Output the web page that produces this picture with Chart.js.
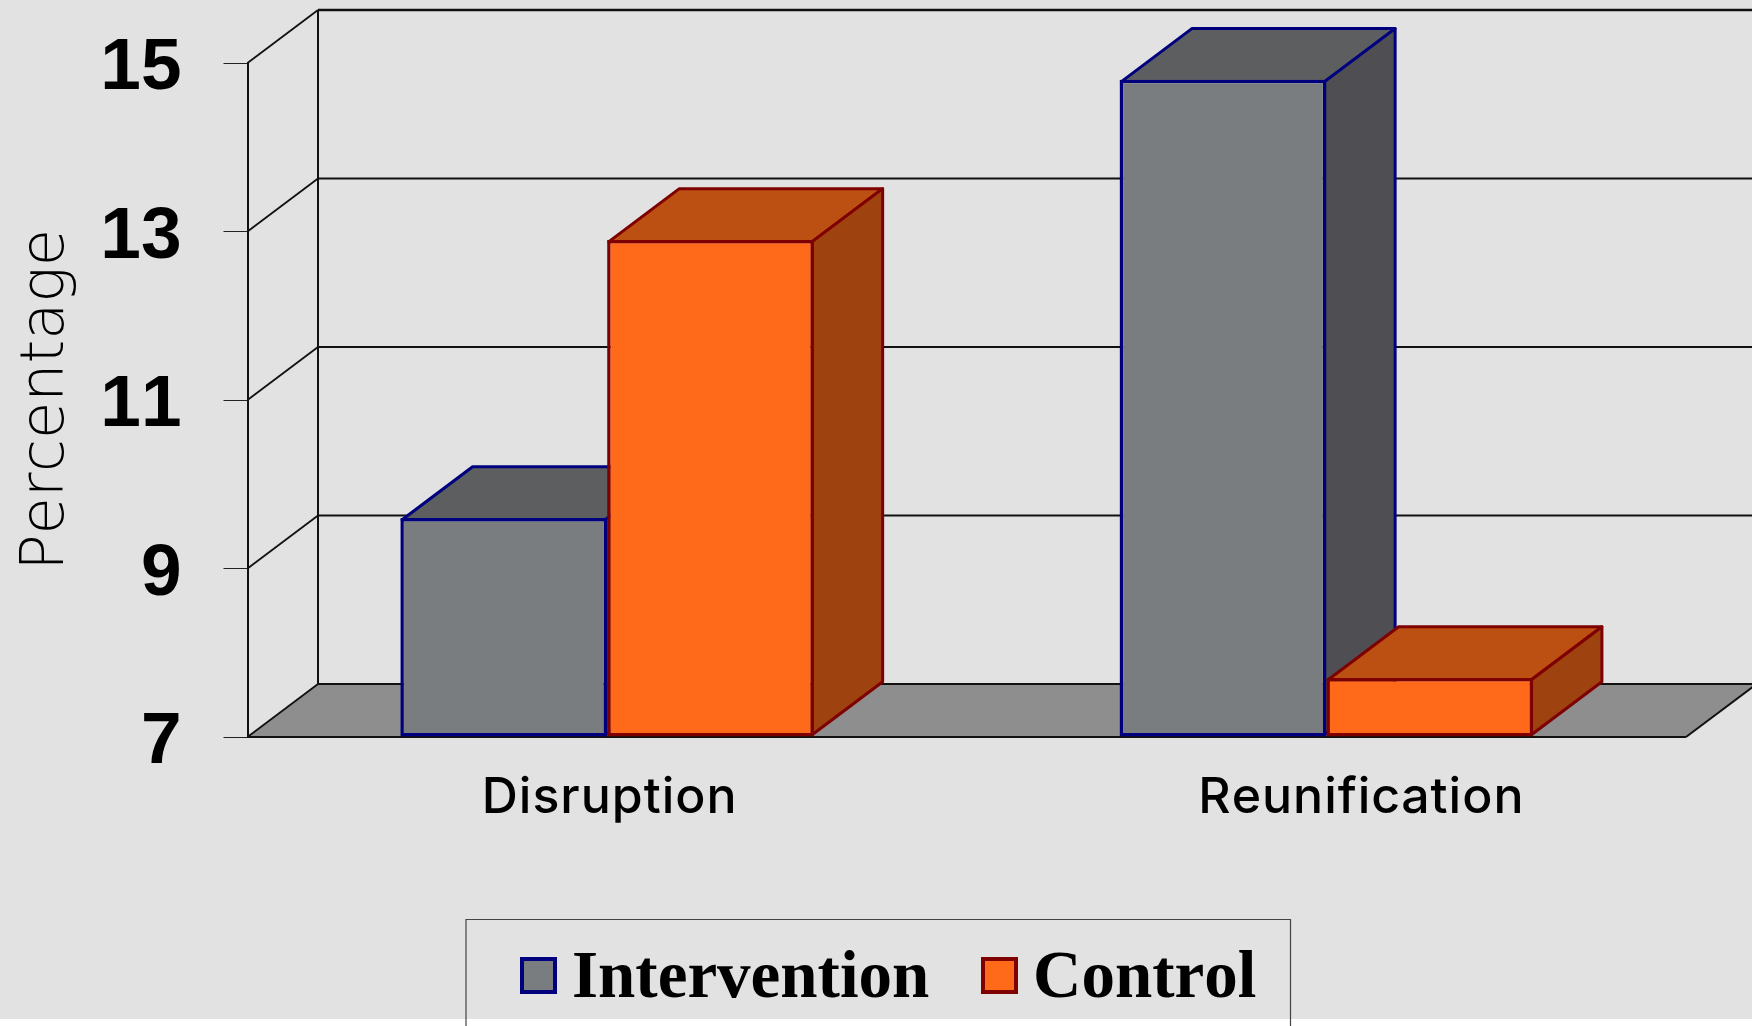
<!DOCTYPE html>
<html>
<head>
<meta charset="utf-8">
<title>Percentage chart</title>
<script src="https://cdn.jsdelivr.net/npm/chart.js@4/dist/chart.umd.js"></script>
<style>
  html, body { margin: 0; padding: 0; background: #fff; }
  canvas { display: block; }
</style>
</head>
<body>
<canvas id="myChart" width="1752" height="1026"></canvas>
<script>
// data
var categories = ["Disruption", "Reunification"];
var intervention = [9.6, 14.8];
var control = [12.9, 7.7];
var yTicks = [7, 9, 11, 13, 15];

// box depth in pixels
var DEPTH_X = 70.5;
var DEPTH_Y = 53;
var BAR_EDGE = 3.5;
var LINE = '#111';

var interventionStyle = { front: '#7a7d80', top: '#5c5e60', side: '#4f4f53', edge: '#00007f' };
var controlStyle = { front: '#ff6a1a', top: '#bc4f12', side: '#9e4210', edge: '#7f0000' };

function poly(ctx, pts, fill, stroke, width) {
    ctx.beginPath();
    ctx.moveTo(pts[0][0], pts[0][1]);
    for (var i = 1; i < pts.length; i++) ctx.lineTo(pts[i][0], pts[i][1]);
    ctx.closePath();
    if (fill) { ctx.fillStyle = fill; ctx.fill(); }
    if (stroke) { ctx.strokeStyle = stroke; ctx.lineWidth = width; ctx.lineJoin = 'round'; ctx.stroke(); }
}

function line(ctx, x1, y1, x2, y2, width) {
    ctx.beginPath();
    ctx.moveTo(x1, y1);
    ctx.lineTo(x2, y2);
    ctx.strokeStyle = LINE;
    ctx.lineWidth = width;
    ctx.stroke();
}

// page background
var backdrop = {
    id: 'backdrop',
    beforeDraw: function (chart) {
        var ctx = chart.ctx;
        ctx.fontKerning = 'none'; // keeps "11" as wide as the other tick labels
        ctx.save();
        ctx.fillStyle = '#fff';
        ctx.fillRect(0, 0, chart.width, chart.height);
        ctx.fillStyle = '#e2e2e2';
        ctx.fillRect(0, 0, chart.width, 1019);
        ctx.restore();
    }
};

// floor, side wall and back wall of the 3d box
var walls = {
    id: 'walls',
    beforeDatasetsDraw: function (chart) {
        var ctx = chart.ctx, a = chart.chartArea, y = chart.scales.y;
        var bx = a.left + DEPTH_X;
        ctx.save();
        poly(ctx, [[a.left, a.bottom], [bx, a.bottom - DEPTH_Y], [a.right + DEPTH_X, a.bottom - DEPTH_Y], [a.right, a.bottom]], '#8e8e8e');
        line(ctx, bx, y.getPixelForValue(yTicks[yTicks.length - 1]) - DEPTH_Y, bx, a.bottom - DEPTH_Y, 2);
        yTicks.forEach(function (t) {
            var py = y.getPixelForValue(t);
            line(ctx, a.left, py, bx, py - DEPTH_Y, 1.8);
            line(ctx, bx, py - DEPTH_Y, chart.width, py - DEPTH_Y, t === yTicks[yTicks.length - 1] ? 2.4 : 1.8);
        });
        line(ctx, a.left, a.bottom, a.right, a.bottom, 2);
        line(ctx, a.right, a.bottom, a.right + DEPTH_X, a.bottom - DEPTH_Y, 2);
        ctx.restore();
    }
};

// the default pass would put the first dataset on top, here control has to overlap
// intervention, so each dataset is drawn in turn together with its top and side faces
var boxes = {
    id: 'boxes',
    beforeDatasetDraw: function () {
        return false;
    },
    afterDatasetsDraw: function (chart) {
        var ctx = chart.ctx;
        var inset = BAR_EDGE / 2; // bar borders are drawn inside the bar rectangle
        [interventionStyle, controlStyle].forEach(function (style, i) {
            var meta = chart.getDatasetMeta(i);
            ctx.save();
            meta.data.forEach(function (bar) {
                var l = bar.x - bar.width / 2 + inset, r = bar.x + bar.width / 2 - inset, t = bar.y + inset, b = bar.base - inset;
                poly(ctx, [[l, t], [l + DEPTH_X, t - DEPTH_Y], [r + DEPTH_X, t - DEPTH_Y], [r, t]], style.top, style.edge, 3);
                poly(ctx, [[r, t], [r + DEPTH_X, t - DEPTH_Y], [r + DEPTH_X, b - DEPTH_Y], [r, b]], style.side, style.edge, 3);
            });
            meta.controller.draw();
            ctx.restore();
        });
    }
};

// category names sit under the floor, the second one a bit right of its bars
var labelShift = [2.5, 35];
var categoryLabels = {
    id: 'categoryLabels',
    afterDraw: function (chart) {
        var ctx = chart.ctx, x = chart.scales.x;
        ctx.save();
        ctx.font = '500 50px Inter';
        ctx.letterSpacing = '1px';
        ctx.fillStyle = '#000';
        ctx.textAlign = 'center';
        ctx.textBaseline = 'alphabetic';
        categories.forEach(function (c, i) {
            ctx.fillText(c, x.getPixelForValue(i) + labelShift[i], 813);
        });
        ctx.restore();
    }
};

// boxed legend running off the bottom of the page
var legendBox = {
    id: 'legendBox',
    afterDraw: function (chart) {
        var ctx = chart.ctx;
        ctx.save();
        ctx.strokeStyle = '#444';
        ctx.lineWidth = 1.2;
        ctx.beginPath();
        ctx.moveTo(466, chart.height);
        ctx.lineTo(466, 919.5);
        ctx.lineTo(1290.5, 919.5);
        ctx.lineTo(1290.5, chart.height);
        ctx.stroke();
        var swatchX = [520, 981];
        var textX = [572, 1033];
        var styles = [interventionStyle, controlStyle];
        chart.data.datasets.forEach(function (ds, i) {
            ctx.fillStyle = styles[i].front;
            ctx.strokeStyle = styles[i].edge;
            ctx.lineWidth = 4;
            ctx.fillRect(swatchX[i] + 2, 959, 33, 33);
            ctx.strokeRect(swatchX[i] + 2, 959, 33, 33);
            ctx.font = 'bold 67px "Liberation Serif"';
            ctx.fillStyle = '#000';
            ctx.textAlign = 'left';
            ctx.textBaseline = 'alphabetic';
            ctx.fillText(ds.label, textX[i], 996.5);
        });
        ctx.restore();
    }
};

var ctx = document.getElementById("myChart").getContext('2d');

var myChart = new Chart(ctx, {
    type: 'bar',
    data: {
        labels: categories,
        datasets: [
            {
                label: 'Intervention',
                data: intervention,
                base: yTicks[0],
                backgroundColor: interventionStyle.front,
                borderColor: interventionStyle.edge,
                borderWidth: BAR_EDGE,
                borderSkipped: false
            },
            {
                label: 'Control',
                data: control,
                base: yTicks[0],
                backgroundColor: controlStyle.front,
                borderColor: controlStyle.edge,
                borderWidth: BAR_EDGE,
                borderSkipped: false
            }
        ]
    },
    options: {
        responsive: false,
        animation: false,
        layout: { padding: { top: 63, right: 66, left: 0, bottom: 0 } },
        categoryPercentage: 0.575,
        barPercentage: 1,
        plugins: {
            legend: { display: false },
            tooltip: { enabled: false }
        },
        scales: {
            x: {
                grid: { display: false },
                border: { display: false },
                ticks: { display: false },
                afterFit: function (s) { s.height = 289; }
            },
            y: {
                min: yTicks[0],
                max: yTicks[yTicks.length - 1],
                afterFit: function (s) {
                    s.width = 247.5;
                    s.paddingTop = 0;
                    s.paddingBottom = 0;
                },
                grid: { drawOnChartArea: false, tickLength: 24, tickWidth: 1, tickColor: '#222' },
                border: { display: true, color: LINE, width: 2 },
                ticks: {
                    stepSize: 2,
                    padding: 42,
                    labelOffset: 6,
                    color: '#000',
                    font: { family: '"Liberation Sans"', size: 73, weight: 'bold' }
                },
                title: {
                    display: true,
                    text: 'Percentage',
                    color: '#000',
                    padding: { top: 11, bottom: 0 },
                    font: { family: '"DejaVu Sans"', size: 60.5, weight: '200' }
                }
            }
        }
    },
    plugins: [backdrop, walls, boxes, categoryLabels, legendBox]
});
</script>
</body>
</html>
